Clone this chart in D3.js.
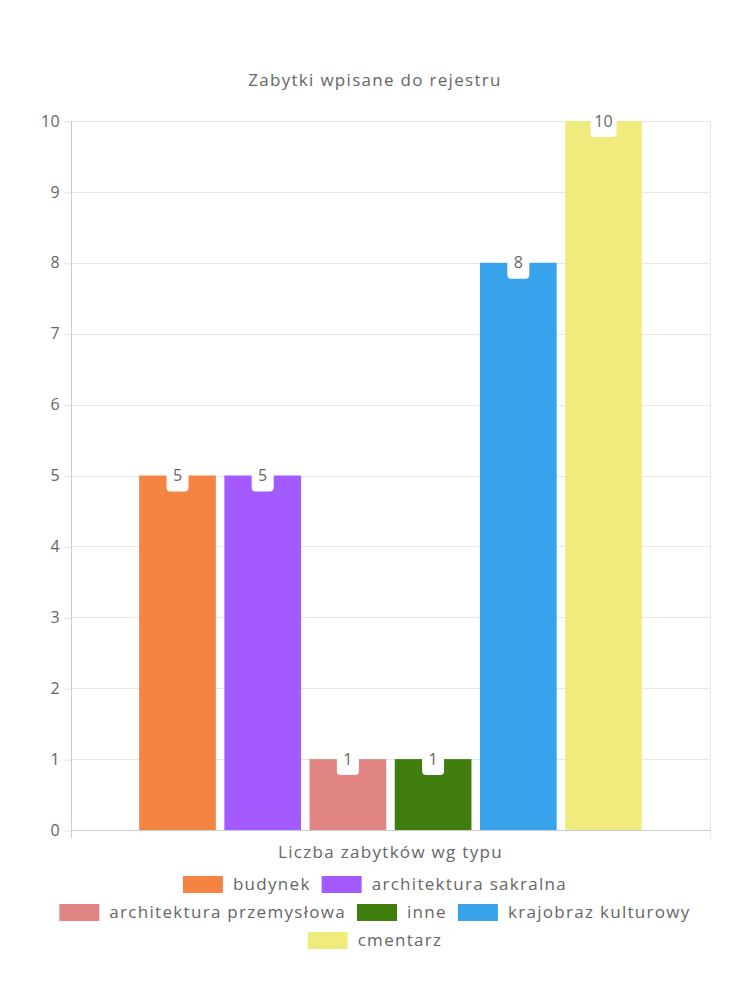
<!DOCTYPE html>
<html>
<head>
<meta charset="utf-8">
<script src="https://cdn.jsdelivr.net/npm/d3@7"></script>
<style>
  body { margin: 0; background: #fff; }
  text { font-family: "Open Sans", "Lato", sans-serif; fill: #666; }
</style>
</head>
<body>
<div class="D3"></div>
<script>
// chart data
var seriesNames = ["budynek", "architektura sakralna", "architektura przemysłowa", "inne", "krajobraz kulturowy", "cmentarz"];
var seriesValues = [5, 5, 1, 1, 8, 10];
var seriesColors = ["#f58342", "#a35bff", "#e08484", "#3e7d0e", "#38a3ea", "#f0eb7d"];
var yTicks = [0, 1, 2, 3, 4, 5, 6, 7, 8, 9, 10];
var chartTitle = "Zabytki wpisane do rejestru";
var xTitle = "Liczba zabytków wg typu";
// legend rows as wrapped in the picture
var legendRows = [[0, 1], [2, 3, 4], [5]];

var svgWidth = 750;
var svgHeight = 1000;
var margin = { top: 121, right: 40, left: 71 };
var chartWidth = svgWidth - margin.left - margin.right;
var chartHeight = 709;

var svg = d3.select(".D3").append("svg")
  .attr("width", svgWidth)
  .attr("height", svgHeight);

var chartGroup = svg.append("g")
  .attr("transform", `translate(${margin.left}, ${margin.top})`);

var xBand = d3.scaleBand()
  .domain(seriesNames)
  .range([0, chartWidth])
  .paddingInner(0.1)
  .paddingOuter(0.8);

var yLinearScale = d3.scaleLinear()
  .domain([0, 10])
  .range([chartHeight, 0]);

//grid lines
chartGroup.append("g").selectAll("line")
  .data(yTicks)
  .enter()
  .append("line")
  .attr("x1", 0)
  .attr("x2", chartWidth)
  .attr("y1", d => Math.round(yLinearScale(d)) + 0.5)
  .attr("y2", d => Math.round(yLinearScale(d)) + 0.5)
  .attr("stroke", d => d === 0 ? "#ccc" : "#e6e6e6");

//y axis
var leftAxis = d3.axisLeft(yLinearScale).tickValues(yTicks).tickSize(7).tickPadding(4);
var yAxis = chartGroup.append("g").call(leftAxis);
yAxis.select(".domain").remove();
yAxis.selectAll(".tick line").attr("stroke", "#e0e0e0").attr("transform", "translate(0,0.5)");
yAxis.selectAll(".tick text")
  .attr("font-size", 16)
  .attr("letter-spacing", 0.3)
  .style("fill", "#666")
  .attr("font-family", null);

//vertical borders
[0, chartWidth].forEach(function(x) {
  chartGroup.append("line")
    .attr("x1", x + 0.5).attr("x2", x + 0.5)
    .attr("y1", 0).attr("y2", chartHeight + 8)
    .attr("stroke", x === 0 ? "#ccc" : "#e6e6e6");
});

//bars
chartGroup.selectAll("rect.bar")
  .data(seriesValues)
  .enter()
  .append("rect")
  .classed("bar", true)
  .attr("x", (d, i) => xBand(seriesNames[i]))
  .attr("y", d => yLinearScale(d))
  .attr("width", xBand.bandwidth())
  .attr("height", d => chartHeight - yLinearScale(d))
  .attr("fill", (d, i) => seriesColors[i]);

//value labels
var labels = chartGroup.selectAll("g.lbl")
  .data(seriesValues)
  .enter()
  .append("g")
  .classed("lbl", true)
  .attr("transform", (d, i) => `translate(${xBand(seriesNames[i]) + xBand.bandwidth() / 2}, ${yLinearScale(d)})`);

labels.append("rect")
  .attr("x", d => d >= 10 ? -13 : -11)
  .attr("width", d => d >= 10 ? 26 : 22)
  .attr("y", -16)
  .attr("height", 32)
  .attr("rx", 4)
  .attr("fill", "#fff");

labels.append("text")
  .attr("text-anchor", "middle")
  .attr("dy", "0.35em")
  .attr("font-size", 16)
  .text(d => d);

//titles
svg.append("text")
  .attr("x", svgWidth / 2)
  .attr("y", 86)
  .attr("text-anchor", "middle")
  .attr("font-size", 17)
  .attr("letter-spacing", 1.3)
  .text(chartTitle);

svg.append("text")
  .attr("x", margin.left + chartWidth / 2)
  .attr("y", 858)
  .attr("text-anchor", "middle")
  .attr("font-size", 17)
  .attr("letter-spacing", 1.3)
  .text(xTitle);

//legend, centred on the whole canvas
var legendY = [884, 912, 940];
var center = svgWidth / 2;
legendRows.forEach(function(row, r) {
  var g = svg.append("g");
  var x = 0;
  row.forEach(function(i, k) {
    var item = g.append("g").attr("transform", `translate(${x}, 0)`);
    item.append("rect")
      .attr("x", 0).attr("y", -8)
      .attr("width", 40).attr("height", 17)
      .attr("fill", seriesColors[i]);
    var t = item.append("text")
      .attr("x", 50)
      .attr("dy", "0.35em")
      .attr("font-size", 17)
      .attr("letter-spacing", 1.3)
      .text(seriesNames[i]);
    x += 50 + t.node().getComputedTextLength() + 11;
  });
  x -= 11;
  g.attr("transform", `translate(${center - x / 2}, ${legendY[r]})`);
});
</script>
</body>
</html>
